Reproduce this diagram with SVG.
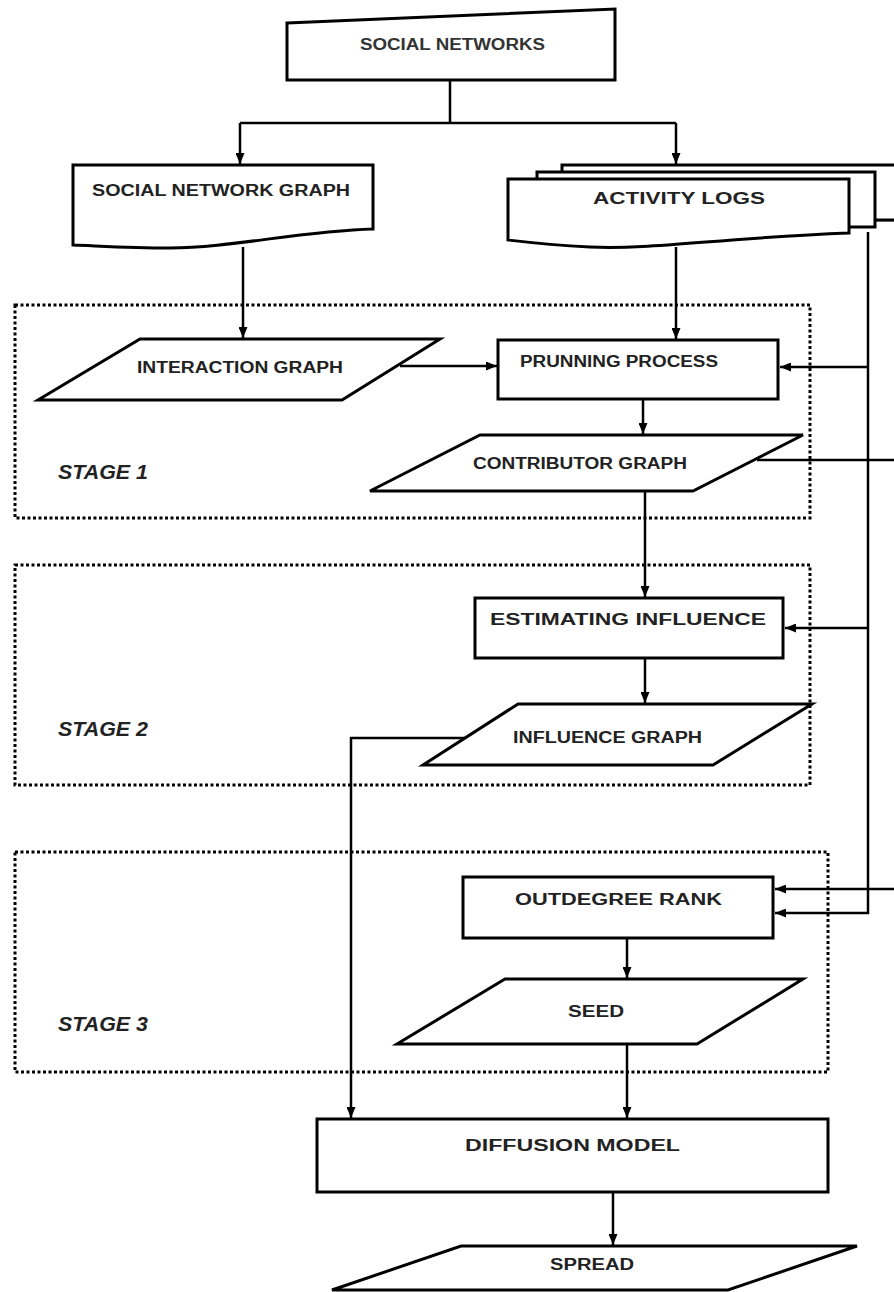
<svg xmlns="http://www.w3.org/2000/svg" width="894" height="1292" viewBox="0 0 894 1292">
<defs>
<marker id="ah" markerUnits="userSpaceOnUse" markerWidth="11" markerHeight="9" refX="11" refY="4.5" orient="auto">
<path d="M0,0 L11,4.5 L0,9 z" fill="#000"/>
</marker>
<style>
.sh{fill:#fff;stroke:#000;stroke-width:3;stroke-linejoin:miter}
.stage{fill:none;stroke:#000;stroke-width:3;stroke-dasharray:3 2.5}
.cn{fill:none;stroke:#000;stroke-width:2.5}
.ar{marker-end:url(#ah)}
.t{font-family:"Liberation Sans",Arial,sans-serif;font-weight:bold;font-size:16px;fill:#222}
.st{font-family:"Liberation Sans",Arial,sans-serif;font-weight:bold;font-style:italic;font-size:21px;fill:#222}
</style>
</defs>
<rect width="894" height="1292" fill="#fff"/>
<g id="stage1"><rect class="stage" x="15" y="305" width="795" height="213"/><text class="st" x="58" y="479" textLength="90" lengthAdjust="spacingAndGlyphs">STAGE 1</text></g>
<g id="stage2"><rect class="stage" x="15" y="565" width="795" height="220"/><text class="st" x="58" y="736" textLength="90" lengthAdjust="spacingAndGlyphs">STAGE 2</text></g>
<g id="stage3"><rect class="stage" x="15" y="852" width="813" height="220"/><text class="st" x="58" y="1031" textLength="90" lengthAdjust="spacingAndGlyphs">STAGE 3</text></g>
<g id="connectors">
<path class="cn" d="M450,80 V123"/>
<path class="cn" d="M240,123 H676"/>
<path class="cn ar" d="M240,123 V164"/>
<path class="cn ar" d="M676,123 V164"/>
<path class="cn ar" d="M243,247 V338"/>
<path class="cn ar" d="M676,247 V339"/>
<path class="cn ar" d="M400,366 H497"/>
<path class="cn ar" d="M643,399 V434"/>
<path class="cn ar" d="M645,491 V597"/>
<path class="cn ar" d="M645,658 V703"/>
<path class="cn ar" d="M473,738 H351 V1118"/>
<path class="cn ar" d="M627,938 V978"/>
<path class="cn ar" d="M627,1044 V1118"/>
<path class="cn ar" d="M613,1192 V1245"/>
<path class="cn ar" d="M868,232 V913 H775"/>
<path class="cn ar" d="M868,367 H780"/>
<path class="cn ar" d="M868,628 H785"/>
<path class="cn" d="M757,460 H894"/>
<path class="cn ar" d="M894,889 H775"/>
<path class="cn" d="M875,220 H894"/>
</g>
<g id="social-networks"><path class="sh" d="M287,23 L615,9 V80 H287 Z"/><text class="t" x="360" y="50" textLength="185" lengthAdjust="spacingAndGlyphs" style="fill:#333">SOCIAL NETWORKS</text></g>
<g id="social-network-graph"><path class="sh" d="M73,165 H373 V229 C300,231 230,248 170,248 C130,248 100,246 73,245 Z"/><text class="t" x="92" y="196" textLength="258" lengthAdjust="spacingAndGlyphs">SOCIAL NETWORK GRAPH</text></g>
<g id="activity-logs">
<rect class="sh" x="562" y="165" width="350" height="55"/>
<path class="sh" d="M537,172 H875 V227 H537 Z"/>
<path class="sh" d="M508,179 H849 V233 C720,238 650,250 590,247 C550,245 525,242 508,240 Z"/>
<text class="t" x="593" y="204" textLength="172" lengthAdjust="spacingAndGlyphs">ACTIVITY LOGS</text>
</g>
<g id="interaction-graph"><polygon class="sh" points="140,339 440,339 342,400 38,400"/><text class="t" x="137" y="373" textLength="206" lengthAdjust="spacingAndGlyphs">INTERACTION GRAPH</text></g>
<g id="prunning-process"><rect class="sh" x="498" y="340" width="280" height="59"/><text class="t" x="520" y="367" textLength="198" lengthAdjust="spacingAndGlyphs">PRUNNING PROCESS</text></g>
<g id="contributor-graph"><polygon class="sh" points="480,435 803,435 693,491 370,491"/><text class="t" x="473" y="469" textLength="214" lengthAdjust="spacingAndGlyphs">CONTRIBUTOR GRAPH</text></g>
<g id="estimating-influence"><rect class="sh" x="475" y="598" width="308" height="60"/><text class="t" x="490" y="625" textLength="276" lengthAdjust="spacingAndGlyphs">ESTIMATING INFLUENCE</text></g>
<g id="influence-graph"><polygon class="sh" points="518,704 812,704 713,765 423,765"/><text class="t" x="513" y="743" textLength="189" lengthAdjust="spacingAndGlyphs">INFLUENCE GRAPH</text></g>
<g id="outdegree-rank"><rect class="sh" x="463" y="877" width="310" height="61"/><text class="t" x="515" y="905" textLength="207" lengthAdjust="spacingAndGlyphs">OUTDEGREE RANK</text></g>
<g id="seed"><polygon class="sh" points="505,979 803,979 697,1044 397,1044"/><text class="t" x="568" y="1017" textLength="56" lengthAdjust="spacingAndGlyphs">SEED</text></g>
<g id="diffusion-model"><rect class="sh" x="317" y="1119" width="511" height="73"/><text class="t" x="465" y="1151" textLength="215" lengthAdjust="spacingAndGlyphs">DIFFUSION MODEL</text></g>
<g id="spread"><polygon class="sh" points="461,1246 857,1246 728,1290 332,1290"/><text class="t" x="550" y="1270" textLength="84" lengthAdjust="spacingAndGlyphs">SPREAD</text></g>
</svg>
